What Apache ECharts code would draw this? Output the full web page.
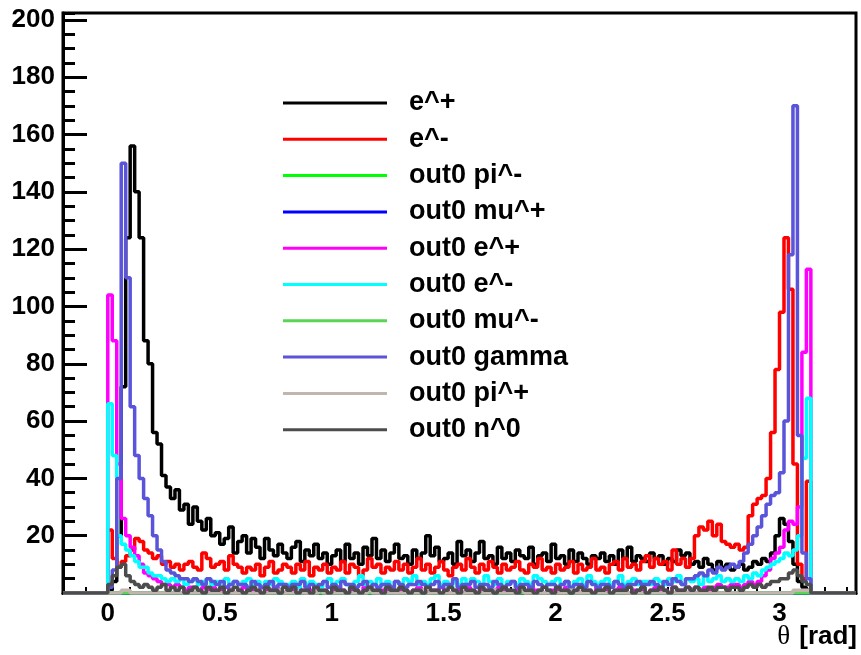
<!DOCTYPE html>
<html>
<head>
<meta charset="utf-8">
<script src="https://cdn.jsdelivr.net/npm/echarts@6/dist/echarts.min.js"></script>
<style>
html,body{margin:0;padding:0;background:#fff;}
#chart{width:861px;height:655px;}
</style>
</head>
<body>
<div id="chart"></div>
<script>
// Histogram binning (theta, rad): bins of 0.02 starting at 0
const binStart = 0;
const binWidth = 0.02;

const seriesNames = ['e^+', 'e^-', 'out0 pi^-', 'out0 mu^+', 'out0 e^+', 'out0 e^-', 'out0 mu^-', 'out0 gamma', 'out0 pi^+', 'out0 n^0'];
const seriesColors = ['#000000', '#ff0000', '#00ff00', '#0000ff', '#ff00ff', '#00ffff', '#59d454', '#5954d9', '#c0b6ac', '#4c4c4c'];

const ePlus = [
  1, 4, 20, 72, 124, 156, 140, 124, 88, 80,
  56, 52, 41, 37, 33, 36, 29, 31, 24, 30,
  25, 22, 26, 20, 21, 17, 19, 23, 14, 18,
  20, 14, 19, 16, 12, 19, 15, 13, 17, 14,
  12, 16, 18, 11, 15, 13, 17, 12, 14, 10,
  13, 15, 11, 17, 12, 14, 10, 16, 13, 19,
  12, 15, 11, 14, 17, 12, 13, 10, 15, 12,
  14, 20, 13, 16, 11, 12, 14, 10, 18, 13,
  15, 11, 14, 18, 12, 13, 10, 16, 12, 14,
  11, 15, 13, 12, 16, 10, 13, 14, 11, 17,
  12, 13, 10, 15, 11, 14, 12, 10, 13, 12,
  14, 11, 13, 10, 15, 12, 16, 11, 13, 12,
  11, 14, 12, 13, 10, 12, 11, 15, 13, 14,
  10, 11, 9, 12, 10, 8, 11, 9, 10, 8,
  9, 10, 8, 9, 11, 10, 12, 11, 14, 20,
  26, 24, 18, 10, 4, 2, 1
];
const eMinus = [
  22, 12, 9, 11, 13, 15, 19, 18, 15, 14,
  12, 13, 10, 11, 9, 10, 8, 10, 11, 9,
  8, 14, 12, 9, 10, 11, 8, 13, 10, 9,
  7, 9, 8, 10, 6, 9, 11, 7, 8, 10,
  9, 7, 10, 8, 11, 6, 9, 8, 10, 7,
  9, 8, 11, 7, 10, 9, 6, 8, 12, 9,
  10, 7, 9, 8, 11, 8, 10, 7, 9, 12,
  8, 10, 7, 9, 11, 8, 6, 9, 10, 8,
  12, 9, 7, 10, 8, 11, 9, 7, 10, 8,
  9, 11, 8, 7, 10, 9, 12, 8, 9, 7,
  10, 8, 9, 11, 7, 10, 8, 9, 12, 8,
  9, 7, 10, 11, 8, 12, 9, 10, 8, 11,
  13, 9, 12, 10, 11, 8, 15, 10, 12, 9,
  12, 20, 23, 22, 25, 20, 24, 18, 17, 16,
  17, 15, 16, 27, 31, 33, 34, 40, 56, 78,
  98, 124, 106, 45, 10, 5, 39
];
const out0PiMinus = [];
const out0MuPlus = [];
const out0EPlus = [
  104, 88, 45, 26, 20, 16, 13, 10, 7, 6,
  5, 4, 3, 3, 2, 3, 2, 1, 2, 2,
  1, 2, 1, 2, 1, 1, 2, 1, 0, 1,
  2, 1, 1, 0, 2, 1, 1, 2, 1, 0,
  1, 1, 2, 1, 0, 1, 2, 1, 1, 0,
  1, 2, 1, 0, 1, 1, 0, 2, 1, 1,
  0, 1, 1, 2, 0, 1, 1, 0, 1, 2,
  1, 0, 1, 1, 2, 1, 0, 1, 1, 0,
  2, 1, 0, 1, 1, 0, 1, 2, 1, 1,
  0, 1, 1, 0, 2, 1, 1, 0, 1, 1,
  1, 0, 2, 1, 1, 0, 1, 1, 0, 2,
  1, 1, 0, 1, 2, 1, 0, 1, 1, 1,
  0, 1, 2, 1, 1, 0, 2, 1, 1, 2,
  1, 2, 1, 2, 1, 2, 3, 2, 2, 3,
  3, 2, 3, 4, 3, 4, 6, 8, 12, 14,
  16, 22, 25, 24, 30, 84, 113
];
const out0EMinus = [
  66, 48, 20, 17, 15, 13, 11, 9, 9, 7,
  6, 6, 5, 4, 5, 4, 5, 3, 4, 5,
  3, 4, 5, 3, 4, 2, 5, 3, 4, 3,
  4, 5, 3, 4, 2, 4, 3, 5, 4, 3,
  3, 4, 2, 5, 3, 4, 3, 2, 4, 5,
  3, 4, 5, 3, 2, 4, 6, 3, 4, 3,
  5, 3, 4, 2, 4, 3, 5, 4, 6, 3,
  4, 3, 5, 6, 3, 4, 2, 4, 3, 5,
  3, 5, 4, 3, 6, 4, 3, 5, 2, 4,
  4, 3, 5, 4, 3, 6, 5, 4, 3, 4,
  5, 3, 4, 2, 4, 5, 3, 6, 4, 3,
  4, 5, 3, 4, 6, 3, 4, 5, 3, 4,
  4, 3, 5, 4, 3, 5, 4, 6, 3, 5,
  4, 5, 3, 6, 4, 5, 6, 4, 5, 4,
  5, 4, 6, 5, 7, 6, 8, 9, 10, 11,
  12, 14, 13, 15, 20, 47, 68
];
const out0MuMinus = [];
const out0Gamma = [
  2, 8, 40, 150, 110, 65, 48, 40, 33, 27,
  20, 15, 11, 8, 7, 6, 5, 5, 4, 5,
  4, 3, 5, 4, 3, 4, 2, 3, 4, 3,
  3, 2, 4, 3, 2, 3, 4, 2, 3, 3,
  2, 3, 3, 4, 2, 3, 2, 3, 4, 2,
  3, 2, 4, 3, 3, 2, 3, 4, 2, 3,
  2, 3, 3, 2, 4, 3, 2, 3, 3, 4,
  3, 2, 3, 4, 2, 3, 3, 5, 2, 3,
  3, 4, 2, 3, 3, 2, 4, 3, 2, 3,
  4, 2, 3, 3, 2, 4, 3, 2, 3, 3,
  2, 3, 4, 2, 3, 3, 2, 4, 3, 2,
  3, 3, 2, 4, 3, 2, 3, 3, 4, 3,
  3, 4, 3, 2, 4, 3, 5, 4, 3, 5,
  5, 6, 7, 6, 8, 7, 9, 8, 9, 10,
  9, 11, 14, 17, 20, 23, 27, 31, 34, 35,
  42, 60, 118, 170, 55, 14, 5
];
// sparse entries: [bin index, count]
const out0PiPlus = [[3, 1], [4, 1], [38, 1], [47, 1], [58, 1], [70, 1], [86, 1], [92, 1], [103, 1], [153, 1], [154, 1], [155, 1], [156, 1]];
const out0N0 = [
  3, 6, 9, 10, 6, 4, 3, 2, 3, 2,
  1, 2, 3, 1, 2, 1, 2, 0, 1, 2,
  1, 0, 2, 1, 1, 2, 0, 1, 2, 1,
  0, 1, 2, 1, 0, 2, 1, 1, 0, 2,
  1, 2, 0, 1, 1, 0, 2, 1, 1, 0,
  2, 1, 1, 0, 2, 1, 0, 1, 2, 1,
  1, 0, 2, 1, 1, 2, 1, 0, 1, 1,
  0, 2, 1, 1, 0, 1, 2, 1, 0, 2,
  1, 1, 0, 2, 1, 1, 0, 1, 2, 1,
  1, 0, 2, 1, 1, 0, 1, 2, 1, 0,
  2, 1, 1, 0, 1, 2, 1, 1, 0, 1,
  1, 2, 0, 1, 1, 1, 2, 0, 1, 2,
  0, 1, 1, 2, 1, 0, 2, 1, 1, 2,
  1, 2, 1, 1, 2, 1, 2, 2, 1, 2,
  2, 1, 2, 3, 2, 3, 2, 3, 4, 4,
  5, 5, 7, 8, 6, 4, 3
];

const xTickValues = [0, 0.5, 1, 1.5, 2, 2.5, 3];
const xMinorTickValues = [-0.1, 0, 0.1, 0.2, 0.3, 0.4, 0.5, 0.6, 0.7, 0.8, 0.9, 1, 1.1, 1.2, 1.3, 1.4, 1.5, 1.6, 1.7, 1.8, 1.9, 2, 2.1, 2.2, 2.3, 2.4, 2.5, 2.6, 2.7, 2.8, 2.9, 3, 3.1, 3.2, 3.3];
const yTickValues = [20, 40, 60, 80, 100, 120, 140, 160, 180, 200];
const xAxisTitle = '{t|θ}{r|[rad]}';

// ---- build options ----
const axisMin = -0.2;
const axisMax = Math.PI + 0.2;
const nBins = ePlus.length;

function sparseToCounts(pairs) {
  const c = new Array(nBins).fill(0);
  pairs.forEach(p => { c[p[0]] = p[1]; });
  return c;
}
function toSteps(counts) {
  const pts = [[axisMin, 0]];
  counts.forEach((v, i) => pts.push([+(binStart + i * binWidth).toFixed(5), v]));
  pts.push([+(binStart + counts.length * binWidth).toFixed(5), 0]);
  pts.push([axisMax, 0]);
  return pts;
}

const allCounts = [ePlus, eMinus, out0PiMinus, out0MuPlus, out0EPlus, out0EMinus, out0MuMinus, out0Gamma, sparseToCounts(out0PiPlus), out0N0];

const series = allCounts.map((c, k) => ({
  name: seriesNames[k],
  type: 'line',
  step: 'end',
  data: toSteps(c),
  symbol: 'none',
  showSymbol: false,
  color: seriesColors[k],
  itemStyle: { color: seriesColors[k] },
  lineStyle: { color: seriesColors[k], width: 3.5 },
  xAxisIndex: 0,
  yAxisIndex: 0,
  z: 2 + k,
  clip: true
}));

const FONT = '"Liberation Sans", Arial, Helvetica, sans-serif';

const option = {
  animation: false,
  backgroundColor: '#ffffff',
  grid: {
    left: 63, right: 5, top: 13, bottom: 62,
    outerBoundsMode: 'none',
    containLabel: false,
    show: true, borderColor: '#000', borderWidth: 3, backgroundColor: 'transparent'
  },
  legend: {
    orient: 'vertical',
    left: 283,
    top: 89,
    padding: 0,
    itemWidth: 104,
    itemHeight: 3,
    itemGap: 8.3,
    icon: 'rect',
    selectedMode: false,
    data: seriesNames,
    textStyle: {
      color: '#000', fontFamily: FONT, fontWeight: 'bold', fontSize: 27,
      lineHeight: 28, padding: [0, 0, 0, 17]
    }
  },
  graphic: [{
    type: 'text',
    right: 4,
    top: 623,
    z: 10,
    style: {
      text: xAxisTitle,
      fill: '#000',
      rich: {
        t: { fontFamily: '"Liberation Serif", "DejaVu Serif", serif', fontSize: 27, fill: '#000', padding: [0, 9, 0, 0] },
        r: { fontFamily: FONT, fontWeight: 'bold', fontSize: 26, fill: '#000' }
      }
    }
  }],
  xAxis: [{
    type: 'value',
    min: axisMin,
    max: axisMax,
    splitLine: { show: false },
    axisLine: { show: true, onZero: false, lineStyle: { color: '#000', width: 3 } },
    axisTick: { show: true, inside: true, length: 6, customValues: xMinorTickValues, lineStyle: { color: '#000', width: 2 } },
    axisLabel: {
      margin: 8,
      customValues: xTickValues,
      color: '#000', fontFamily: FONT, fontWeight: 'bold', fontSize: 26,
      formatter: function (v) { return String(v); }
    }
  }],
  yAxis: [{
    type: 'value',
    min: 0,
    max: 202.4,
    position: 'left',
    splitLine: { show: false },
    axisLine: { show: true, onZero: false, lineStyle: { color: '#000', width: 3 } },
    axisTick: { show: true, inside: true, length: 24, customValues: yTickValues, lineStyle: { color: '#000', width: 3 } },
    axisLabel: {
      margin: 8, color: '#000', fontFamily: FONT, fontWeight: 'bold', fontSize: 26,
      customValues: yTickValues,
      formatter: function (v) { return String(v); }
    }
  }, {
    type: 'value',
    min: 0,
    max: 202.4,
    interval: 5,
    position: 'left',
    offset: 0,
    splitLine: { show: false },
    axisLine: { show: false, onZero: false },
    axisTick: { show: true, inside: true, length: 12, lineStyle: { color: '#000', width: 3 } },
    axisLabel: { show: false }
  }],
  series: series
};

const chart = echarts.init(document.getElementById('chart'), null, { renderer: 'canvas' });
chart.setOption(option);
</script>
</body>
</html>
